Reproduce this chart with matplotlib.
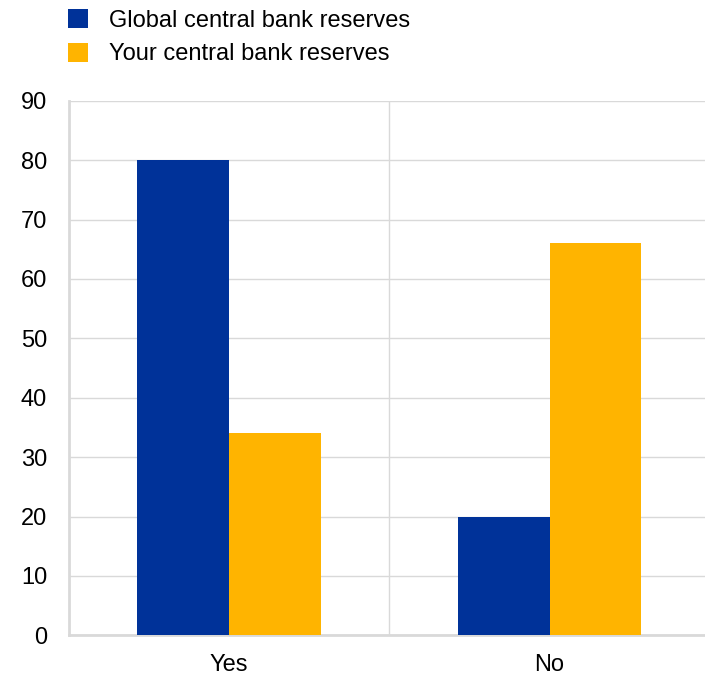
import numpy as np
import matplotlib.pyplot as plt

plt.rcParams['font.family'] = ['Liberation Sans', 'DejaVu Sans']

categories = ['Yes', 'No']
series_names = ['Global central bank reserves', 'Your central bank reserves']
global_vals = [80, 20]
your_vals = [34, 66]
colors = ['#003299', '#FFB400']

fig = plt.figure(figsize=(7.05, 6.75), dpi=100)
ax = fig.add_axes([0.0974, 0.0588, 0.9095, 0.792])

x = np.arange(len(categories))
w = 0.286
b1 = ax.bar(x - w / 2, global_vals, w, color=colors[0], label=series_names[0], zorder=3)
b2 = ax.bar(x + w / 2, your_vals, w, color=colors[1], label=series_names[1], zorder=3)

ax.set_xlim(-0.5, 1.5)
ax.set_ylim(0, 90)
ax.set_yticks(range(0, 91, 10))
ax.set_xticks(x)
ax.set_xticklabels(categories)

# horizontal grid plus a divider between the two groups
ax.yaxis.grid(True, color='#d9d9d9', linewidth=1, zorder=0)
ax.axvline(0.5, color='#d9d9d9', linewidth=1, zorder=0)

for s in ['top', 'right']:
    ax.spines[s].set_visible(False)
for s in ['left', 'bottom']:
    ax.spines[s].set_color('#d9d9d9')
    ax.spines[s].set_linewidth(2)

ax.tick_params(axis='y', length=0, pad=15.5, labelsize=17)
ax.tick_params(axis='x', length=0, pad=13.5, labelsize=17)

fig.legend(handles=[b1, b2], loc='upper left', bbox_to_anchor=(68 / 705, 1 - 9 / 675),
           frameon=False, fontsize=17, handlelength=0.85, handleheight=0.85,
           handletextpad=0.89, labelspacing=0.47, borderpad=0, borderaxespad=0)

fig.savefig('out.png', dpi=100)
